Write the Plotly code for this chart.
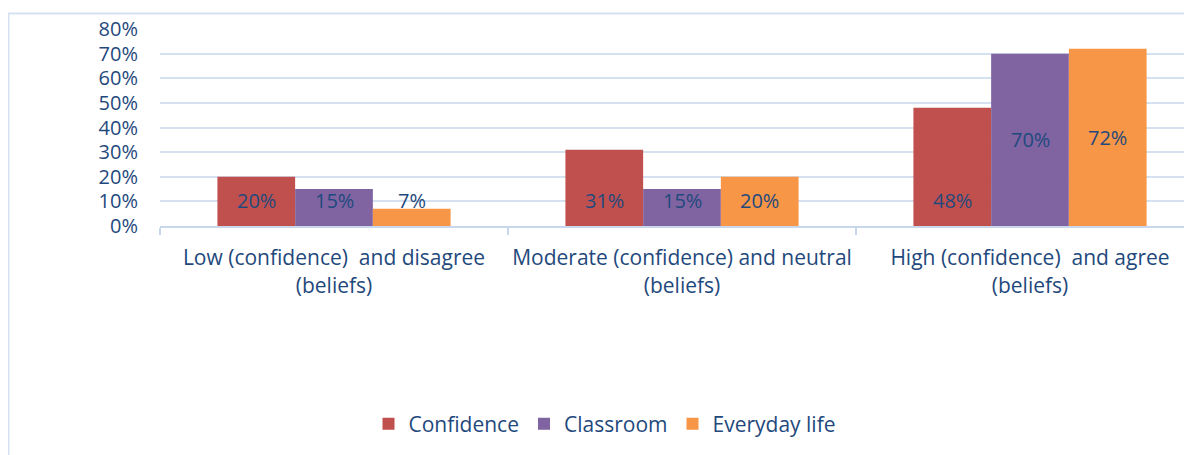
import plotly.graph_objects as go

categories = [
    "Low (confidence)  and disagree<br>(beliefs)",
    "Moderate (confidence) and neutral<br>(beliefs)",
    "High (confidence)  and agree<br>(beliefs)",
]
series_names = ["Confidence", "Classroom", "Everyday life"]
confidence = [0.20, 0.31, 0.48]
classroom = [0.15, 0.15, 0.70]
everyday_life = [0.07, 0.20, 0.72]
y_ticks = [0, 0.1, 0.2, 0.3, 0.4, 0.5, 0.6, 0.7, 0.8]

colors = ["#C0504D", "#8064A2", "#F79646"]
text_color = "#1F497D"
grid_color = "#D5E0F1"
font_family = "'Open Sans', Lato, sans-serif"
fs = 21

# the page body has an 8px margin, so figure coords = page coords - 8
OFF = 8
W, H = 1192 - OFF, 455 - OFF
plot_left, plot_top, plot_bottom = 160 - OFF, 29 - OFF, 226 - OFF
cat_px = 348.0
bargap = 0.33


def main():
    fig = go.Figure()
    all_series = [confidence, classroom, everyday_life]
    for name, vals, col in zip(series_names, all_series, colors):
        fig.add_bar(x=categories, y=vals, name=name, marker_color=col,
                    marker_line_width=0)

    # data labels, placed like the Excel original
    bw = (1 - bargap) / 3
    for j, vals in enumerate(all_series):
        for i, v in enumerate(vals):
            ly = v / 2 if v > 0.6 else 0.103
            fig.add_annotation(x=i + (j - 1) * bw, y=ly, xref="x", yref="y",
                               text=f"{round(v * 100)}%", showarrow=False,
                               font=dict(size=fs - 1, color=text_color))

    plot_h = plot_bottom - plot_top
    plot_w = W - plot_left
    px = lambda x: (x - OFF - plot_left) / plot_w
    py = lambda y: (plot_bottom - (y - OFF)) / plot_h
    # chart border (only top and left edges visible in the crop)
    fig.add_shape(type="line", xref="paper", yref="paper",
                  x0=px(8), x1=px(1200), y0=py(13.5), y1=py(13.5),
                  line=dict(color="#D6E1F1", width=2))
    fig.add_shape(type="line", xref="paper", yref="paper",
                  x0=px(8.5), x1=px(8.5), y0=py(13.5), y1=py(470),
                  line=dict(color="#D6E1F1", width=2))

    fig.update_layout(
        width=W, height=H,
        margin=dict(l=plot_left, r=0, t=plot_top, b=H - plot_bottom),
        paper_bgcolor="white", plot_bgcolor="white",
        barmode="group", bargap=bargap, bargroupgap=0,
        font=dict(family=font_family, size=fs, color=text_color),
        showlegend=True,
        legend=dict(orientation="h", x=px(605), xanchor="center",
                    y=py(424), yanchor="middle",
                    font=dict(size=fs, color=text_color),
                    itemwidth=30, traceorder="normal"),
    )
    fig.update_xaxes(
        range=[-0.5, -0.5 + plot_w / cat_px], automargin=False, tickangle=0,
        showgrid=False, showline=True, linecolor="#C9D7EC", linewidth=2,
        ticks="outside", tickson="boundaries", ticklen=7, tickwidth=2,
        tickcolor="#C9D7EC", ticklabelstandoff=12,
        tickfont=dict(size=fs, color=text_color),
    )
    fig.update_yaxes(
        range=[0, 0.8], tickvals=y_ticks, tickformat=".0%", automargin=False,
        showgrid=True, gridcolor=grid_color, gridwidth=2,
        zeroline=False, showline=False, ticks="", ticklabelstandoff=21,
        tickfont=dict(size=fs - 1, color=text_color),
    )

    fig.write_html("out.html")


if __name__ == "__main__":
    main()
